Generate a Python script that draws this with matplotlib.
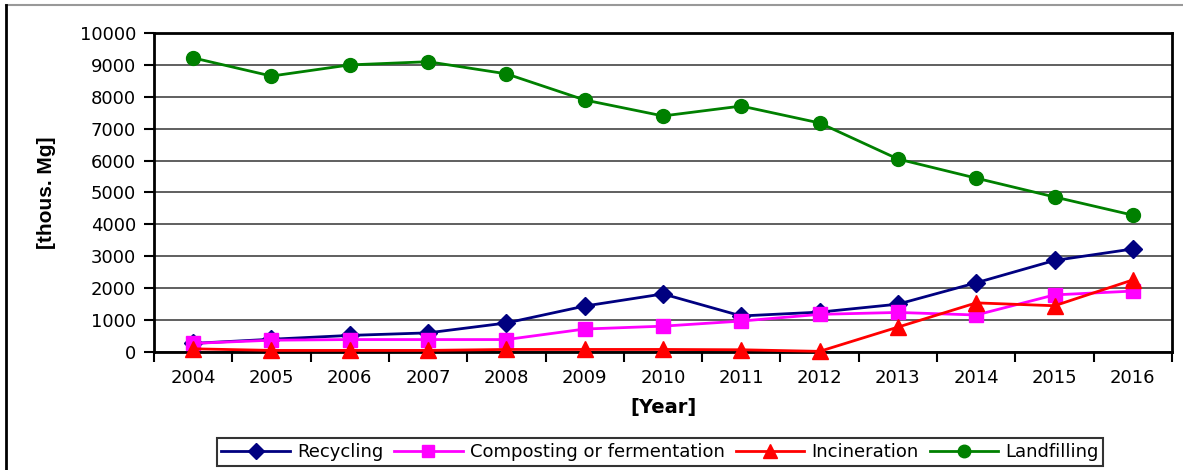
import matplotlib.pyplot as plt
from matplotlib.lines import Line2D

plt.rcParams['font.family'] = ['DejaVu Sans']

years = ['2004', '2005', '2006', '2007', '2008', '2009', '2010',
         '2011', '2012', '2013', '2014', '2015', '2016']
recycling = [270, 400, 520, 600, 910, 1440, 1820, 1130, 1250, 1500, 2170, 2870, 3230]
composting = [270, 370, 390, 390, 390, 720, 810, 970, 1180, 1240, 1160, 1790, 1910]
incineration = [100, 50, 50, 50, 80, 80, 80, 70, 20, 780, 1540, 1450, 2260]
landfilling = [9220, 8650, 9000, 9100, 8720, 7900, 7400, 7710, 7180, 6050, 5450, 4860, 4290]

series = [
    ('Recycling', recycling, '#000080', 'D', 9),
    ('Composting or fermentation', composting, '#FF00FF', 's', 10),
    ('Incineration', incineration, '#FF0000', '^', 11),
    ('Landfilling', landfilling, '#008000', 'o', 10),
]

fig = plt.figure(figsize=(11.83, 4.70), dpi=100)
ax = fig.add_axes([154 / 1183, 1 - 352 / 470, (1172 - 154) / 1183, (352 - 33) / 470])

x = list(range(len(years)))
for name, vals, col, mk, ms in series:
    ax.plot(x, vals, color=col, marker=mk, markersize=ms, linewidth=2,
            markeredgecolor=col, label=name, clip_on=False, zorder=3)

ax.set_xlim(-0.5, len(years) - 0.5)
ax.set_ylim(0, 10000)
ax.set_yticks(range(0, 10001, 1000))
ax.set_xticks(x)
ax.set_xticklabels(years)
ax.set_xticks([i - 0.5 for i in range(len(years) + 1)], minor=True)
ax.tick_params(axis='x', which='major', length=0, pad=12, labelsize=13)
ax.tick_params(axis='x', which='minor', length=7, width=1.5, direction='out')
ax.tick_params(axis='y', length=7, width=1.5, direction='out', labelsize=13, pad=6)
ax.grid(axis='y', color='#444444', linewidth=1.2)
ax.set_axisbelow(True)
for s in ax.spines.values():
    s.set_linewidth(2)
    s.set_color('black')

ax.set_ylabel('[thous. Mg]', fontsize=15, fontweight='bold', labelpad=17,
              family='Liberation Sans')
ax.set_xlabel('[Year]', fontsize=14, fontweight='bold', labelpad=8)

leg = fig.legend(loc='center', bbox_to_anchor=(660 / 1183, 1 - 452 / 470), ncol=4,
                 fontsize=13, frameon=True, fancybox=False, edgecolor='black',
                 handlelength=3.8, handletextpad=0.4, columnspacing=0.6,
                 borderpad=0.25, markerscale=0.9)
leg.get_frame().set_linewidth(1.5)

# outer frame of the chart
fig.add_artist(Line2D([6 / 1183, 1], [1 - 5 / 470, 1 - 5 / 470], color='#999999',
                      linewidth=1.5, transform=fig.transFigure))
fig.add_artist(Line2D([6 / 1183, 6 / 1183], [0, 1 - 5 / 470], color='black',
                      linewidth=2, transform=fig.transFigure))

fig.savefig('out.png', dpi=100)
